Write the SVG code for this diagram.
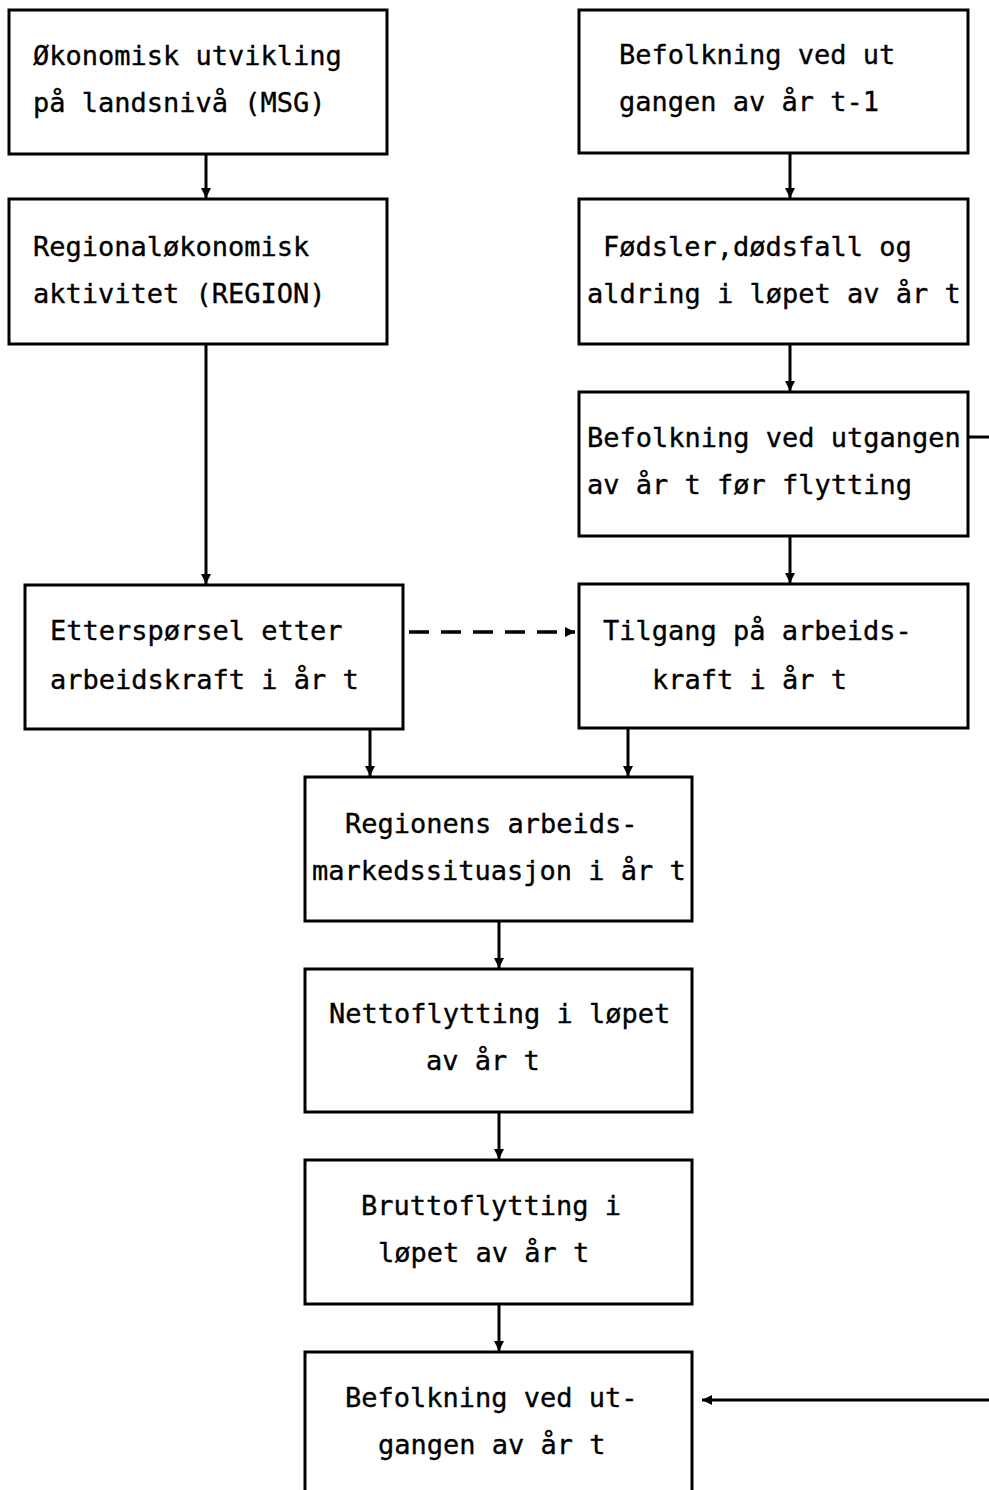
<svg xmlns="http://www.w3.org/2000/svg" width="989" height="1490" viewBox="0 0 989 1490">
  <style>
    .box { fill: #ffffff; stroke: #000000; stroke-width: 3; }
    .lbl { font-family: "DejaVu Sans Mono", "Liberation Mono", monospace; font-size: 27px; fill: #000000; stroke: #000000; stroke-width: 0.35; }
    .ln { fill: none; stroke: #000000; stroke-width: 3; }
    .dash { fill: none; stroke: #000000; stroke-width: 3.5; stroke-dasharray: 20 12; }
  </style>
  <defs>
    <marker id="ah" viewBox="0 0 10 10" refX="10" refY="5" markerWidth="10" markerHeight="10" markerUnits="userSpaceOnUse" orient="auto">
      <path d="M0,0 L10,5 L0,10 Z" fill="#000000"/>
    </marker>
  </defs>
  <rect width="989" height="1490" fill="#ffffff"/>

  <g id="connectors">
    <line class="ln" x1="206" y1="154" x2="206" y2="198" marker-end="url(#ah)"/>
    <line class="ln" x1="206" y1="344" x2="206" y2="584" marker-end="url(#ah)"/>
    <line class="ln" x1="790" y1="153" x2="790" y2="198" marker-end="url(#ah)"/>
    <line class="ln" x1="790" y1="344" x2="790" y2="391" marker-end="url(#ah)"/>
    <line class="ln" x1="790" y1="536" x2="790" y2="583" marker-end="url(#ah)"/>
    <line class="ln" x1="370" y1="729" x2="370" y2="776" marker-end="url(#ah)"/>
    <line class="ln" x1="628" y1="728" x2="628" y2="776" marker-end="url(#ah)"/>
    <line class="ln" x1="499" y1="921" x2="499" y2="968" marker-end="url(#ah)"/>
    <line class="ln" x1="499" y1="1112" x2="499" y2="1159" marker-end="url(#ah)"/>
    <line class="ln" x1="499" y1="1304" x2="499" y2="1351" marker-end="url(#ah)"/>
    <line class="dash" x1="409" y1="632" x2="575" y2="632" marker-end="url(#ah)"/>
    <polyline class="ln" points="968,437 1000,437 1000,1400 702,1400" marker-end="url(#ah)"/>
  </g>

  <g id="n1">
    <rect class="box" x="9" y="10" width="378" height="144"/>
    <text class="lbl" x="33" y="65">Økonomisk utvikling</text>
    <text class="lbl" x="33" y="112">på landsnivå (MSG)</text>
  </g>
  <g id="n2">
    <rect class="box" x="9" y="199" width="378" height="145"/>
    <text class="lbl" x="33" y="256">Regionaløkonomisk</text>
    <text class="lbl" x="33" y="303">aktivitet (REGION)</text>
  </g>
  <g id="n3">
    <rect class="box" x="579" y="10" width="389" height="143"/>
    <text class="lbl" x="619" y="64">Befolkning ved ut</text>
    <text class="lbl" x="619" y="111">gangen av år t-1</text>
  </g>
  <g id="n4">
    <rect class="box" x="579" y="199" width="389" height="145"/>
    <text class="lbl" x="603" y="256">Fødsler,dødsfall og</text>
    <text class="lbl" x="587" y="303">aldring i løpet av år t</text>
  </g>
  <g id="n5">
    <rect class="box" x="579" y="392" width="389" height="144"/>
    <text class="lbl" x="587" y="447">Befolkning ved utgangen</text>
    <text class="lbl" x="587" y="494">av år t før flytting</text>
  </g>
  <g id="n6">
    <rect class="box" x="25" y="585" width="378" height="144"/>
    <text class="lbl" x="50" y="640">Etterspørsel etter</text>
    <text class="lbl" x="50" y="689">arbeidskraft i år t</text>
  </g>
  <g id="n7">
    <rect class="box" x="579" y="584" width="389" height="144"/>
    <text class="lbl" x="603" y="640">Tilgang på arbeids-</text>
    <text class="lbl" x="652" y="689">kraft i år t</text>
  </g>
  <g id="n8">
    <rect class="box" x="305" y="777" width="387" height="144"/>
    <text class="lbl" x="345" y="833">Regionens arbeids-</text>
    <text class="lbl" x="312" y="880">markedssituasjon i år t</text>
  </g>
  <g id="n9">
    <rect class="box" x="305" y="969" width="387" height="143"/>
    <text class="lbl" x="329" y="1023">Nettoflytting i løpet</text>
    <text class="lbl" x="426" y="1070">av år t</text>
  </g>
  <g id="n10">
    <rect class="box" x="305" y="1160" width="387" height="144"/>
    <text class="lbl" x="361" y="1215">Bruttoflytting i</text>
    <text class="lbl" x="378" y="1262">løpet av år t</text>
  </g>
  <g id="n11">
    <rect class="box" x="305" y="1352" width="387" height="200"/>
    <text class="lbl" x="345" y="1407">Befolkning ved ut-</text>
    <text class="lbl" x="378" y="1454">gangen av år t</text>
  </g>
</svg>
